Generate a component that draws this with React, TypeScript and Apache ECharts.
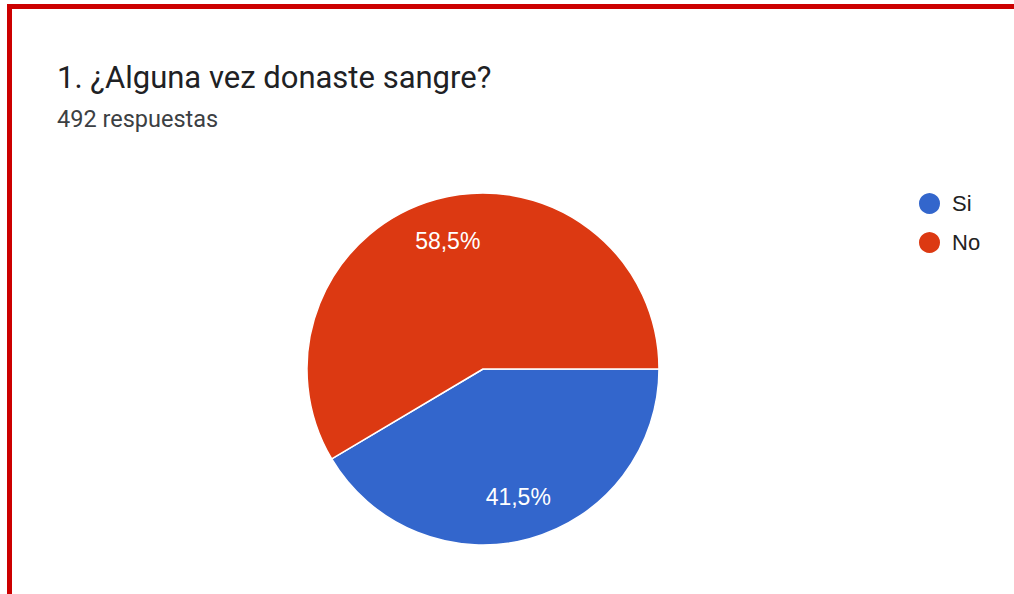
import React, { useEffect, useRef } from "react";
import * as echarts from "echarts";

const titleText = "1. ¿Alguna vez donaste sangre?";
const subtitleText = "492 respuestas";
const categories = ["Si", "No"];
const counts = [204, 288];
const colors = ["#3366cc", "#dc3912"];

export default function App() {
  const ref = useRef<HTMLDivElement>(null);
  useEffect(() => {
    document.body.style.margin = "0";
    const chart = echarts.init(ref.current!, undefined, { renderer: "svg" });
    const total = counts.reduce((a, b) => a + b, 0);
    const data = categories.map((name, i) => ({
      name,
      value: counts[i],
      itemStyle: { color: colors[i] },
    }));
    chart.setOption({
      animation: false,
      backgroundColor: "#ffffff",
      title: {
        text: titleText,
        subtext: subtitleText,
        left: 52,
        top: 57,
        itemGap: 14,
        textStyle: {
          fontFamily: "Roboto",
          fontSize: 31,
          fontWeight: "normal",
          color: "#202124",
        },
        subtextStyle: {
          fontFamily: "Roboto",
          fontSize: 23.5,
          color: "#3c4043",
        },
      },
      legend: {
        orient: "vertical",
        left: 912,
        top: 186,
        icon: "circle",
        itemWidth: 23,
        itemHeight: 23,
        itemGap: 14,
        data: categories,
        textStyle: {
          fontFamily: "Arial, 'Liberation Sans'",
          fontSize: 22,
          color: "#222222",
          padding: [0, 0, 0, 6],
        },
        selectedMode: false,
      },
      graphic: [
        { type: "rect", shape: { x: 7, y: 4, width: 1007, height: 5 }, style: { fill: "#cc0000" } },
        { type: "rect", shape: { x: 7, y: 4, width: 5, height: 590 }, style: { fill: "#cc0000" } },
      ],
      series: [
        {
          type: "pie",
          center: [483, 369],
          radius: [0, 176],
          startAngle: 0,
          clockwise: true,
          silent: true,
          label: { show: false },
          labelLine: { show: false },
          itemStyle: { borderColor: "#ffffff", borderWidth: 1.5 },
          data,
        },
        {
          type: "pie",
          center: [483, 369],
          radius: [84, 176],
          startAngle: 0,
          clockwise: true,
          silent: true,
          legendHoverLink: false,
          itemStyle: { color: "rgba(0,0,0,0)", borderWidth: 0 },
          label: {
            show: true,
            position: "inside",
            fontFamily: "Arial, 'Liberation Sans'",
            fontSize: 23,
            color: "#ffffff",
            formatter: (p: any) =>
              ((p.value / total) * 100).toFixed(1).replace(".", ",") + "%",
          },
          labelLine: { show: false },
          data: categories.map((name, i) => ({ name, value: counts[i] })),
        },
      ],
    });
    return () => chart.dispose();
  }, []);
  return <div ref={ref} style={{ width: 1014, height: 594 }} />;
}
